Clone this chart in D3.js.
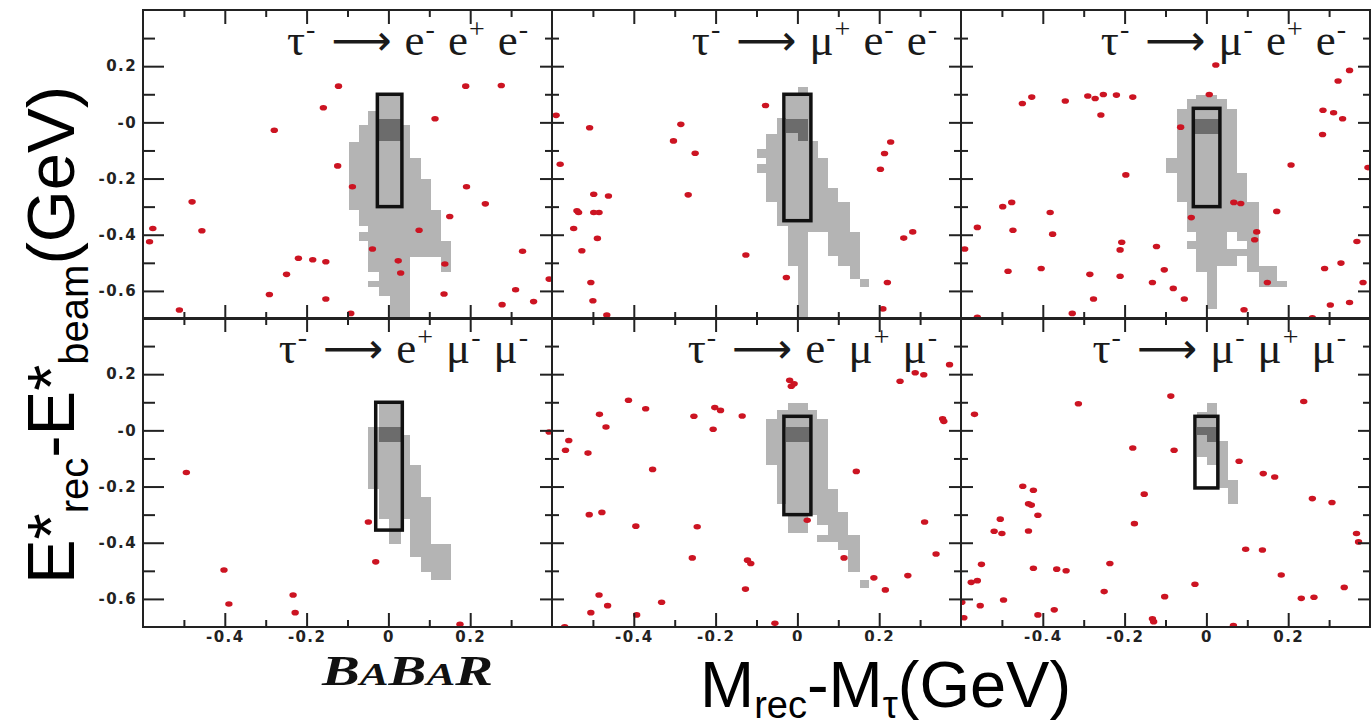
<!DOCTYPE html>
<html>
<head>
<meta charset="utf-8">
<script src="https://cdn.jsdelivr.net/npm/d3@7"></script>
<style>
  body { margin: 0; background: #fff; }
  svg { display: block; }
</style>
</head>
<body>
<div id="chart"></div>
<script>
// axis ranges and ticks (same for all six panels)
const xDomain = [-0.6, 0.4];
const yDomain = [-0.7, 0.4];
const xMajor = [-0.4, -0.2, 0, 0.2];
const xMinor = [-0.5, -0.3, -0.1, 0.1, 0.3];
const yMajor = [-0.6, -0.4, -0.2, 0, 0.2];
const yMinor = [-0.5, -0.3, -0.1, 0.1, 0.3];
const xTickLabels = ["-0.4", "-0.2", "0", "0.2"];
const yTickLabels = ["-0.6", "-0.4", "-0.2", "-0", "0.2"];

// decay channel of each panel: [particle, charge]
const decays = [
  [["e", "-"], ["e", "+"], ["e", "-"]],
  [["μ", "+"], ["e", "-"], ["e", "-"]],
  [["μ", "-"], ["e", "+"], ["e", "-"]],
  [["e", "+"], ["μ", "-"], ["μ", "-"]],
  [["e", "-"], ["μ", "+"], ["μ", "-"]],
  [["μ", "-"], ["μ", "+"], ["μ", "-"]]
];

// signal boxes [xMin, xMax, yTop, yBottom]
const signalBoxes = [
  [-0.027, 0.033, 0.10, -0.30],
  [-0.033, 0.033, 0.10, -0.35],
  [-0.032, 0.033, 0.05, -0.30],
  [-0.031, 0.034, 0.10, -0.355],
  [-0.033, 0.033, 0.05, -0.30],
  [-0.028, 0.028, 0.05, -0.205]
];

// signal MC, light grey bins [yTop, yBottom, xMin, xMax]
const mcEEE = [
  [0.099, 0.040, -0.024, 0.030], [0.040, -0.011, -0.049, 0.030], [-0.011, -0.070, -0.072, 0.054],
  [-0.070, -0.126, -0.097, 0.054], [-0.126, -0.202, -0.097, 0.079], [-0.202, -0.311, -0.097, 0.103],
  [-0.311, -0.368, -0.072, 0.128], [-0.368, -0.392, -0.049, 0.128], [-0.392, -0.421, -0.072, 0.128],
  [-0.421, -0.481, -0.049, 0.153], [-0.481, -0.534, -0.049, 0.054], [-0.481, -0.534, 0.128, 0.153],
  [-0.534, -0.564, -0.024, 0.054], [-0.564, -0.587, -0.049, 0.054], [-0.587, -0.617, -0.024, 0.054],
  [-0.617, -0.700, 0.003, 0.054]
];
const mcMEE = [
  [0.127, 0.099, 0.002, 0.026], [0.099, 0.017, -0.029, 0.030], [0.017, -0.040, -0.049, 0.030],
  [-0.040, -0.066, -0.076, 0.030], [-0.066, -0.096, -0.076, 0.050], [-0.096, -0.126, -0.100, 0.050],
  [-0.126, -0.149, -0.076, 0.075], [-0.149, -0.179, -0.100, 0.075], [-0.179, -0.232, -0.076, 0.075],
  [-0.232, -0.285, -0.076, 0.099], [-0.285, -0.368, -0.049, 0.128], [-0.368, -0.392, -0.023, 0.128],
  [-0.392, -0.475, -0.023, 0.026], [-0.392, -0.475, 0.075, 0.152], [-0.475, -0.510, -0.023, 0.026],
  [-0.475, -0.510, 0.099, 0.152], [-0.510, -0.558, 0.002, 0.026], [-0.510, -0.558, 0.128, 0.152],
  [-0.558, -0.587, 0.002, 0.026], [-0.558, -0.587, 0.152, 0.176], [-0.587, -0.700, 0.002, 0.026]
];
const mcMpEE = [
  [0.097, 0.082, -0.026, 0.027], [0.082, 0.046, -0.048, 0.051], [0.046, -0.126, -0.072, 0.076],
  [-0.126, -0.179, -0.098, 0.076], [-0.179, -0.285, -0.072, 0.100], [-0.285, -0.392, -0.048, 0.128],
  [-0.392, -0.421, -0.026, 0.051], [-0.392, -0.421, 0.076, 0.128], [-0.421, -0.451, -0.048, 0.051],
  [-0.421, -0.451, 0.100, 0.128], [-0.451, -0.475, -0.026, 0.128], [-0.475, -0.510, -0.026, 0.076],
  [-0.475, -0.510, 0.100, 0.128], [-0.510, -0.534, -0.026, 0.027], [-0.510, -0.534, 0.100, 0.173],
  [-0.534, -0.564, 0.002, 0.027], [-0.534, -0.564, 0.128, 0.173], [-0.564, -0.587, 0.002, 0.027],
  [-0.564, -0.587, 0.128, 0.198], [-0.587, -0.664, 0.002, 0.027]
];
const mcEMM = [
  [0.098, 0.012, -0.024, 0.030], [0.012, -0.018, -0.049, 0.030], [-0.018, -0.124, -0.049, 0.054],
  [-0.124, -0.207, -0.049, 0.079], [-0.207, -0.237, -0.024, 0.079], [-0.237, -0.314, -0.024, 0.103],
  [-0.314, -0.403, 0.002, 0.030], [-0.314, -0.403, 0.054, 0.103], [-0.403, -0.450, 0.054, 0.152],
  [-0.450, -0.503, 0.079, 0.152], [-0.503, -0.533, 0.103, 0.152]
];
const mcEmMM = [
  [0.098, 0.071, -0.023, 0.026], [0.071, 0.041, -0.049, 0.049], [0.041, -0.124, -0.076, 0.075],
  [-0.124, -0.207, -0.049, 0.075], [-0.207, -0.261, -0.049, 0.099], [-0.261, -0.290, -0.029, 0.099],
  [-0.290, -0.302, -0.029, 0.124], [-0.302, -0.367, -0.023, 0.026], [-0.302, -0.337, 0.049, 0.124],
  [-0.337, -0.373, 0.075, 0.124], [-0.373, -0.397, 0.049, 0.152], [-0.397, -0.426, 0.099, 0.152],
  [-0.426, -0.503, 0.124, 0.152], [-0.533, -0.562, 0.152, 0.176]
];
const mcMMM = [
  [0.065, 0.053, -0.024, 0.002], [0.098, 0.053, 0.002, 0.027], [0.053, -0.095, -0.024, 0.027],
  [-0.095, -0.124, 0.002, 0.027], [-0.039, -0.205, 0.030, 0.053], [-0.178, -0.261, 0.053, 0.077]
];

// signal MC, dark grey core bins
const coreEEE = [[0.011, -0.066, -0.024, 0.030]];
const coreMEE = [[0.013, -0.037, -0.029, 0.026], [-0.037, -0.066, 0.002, 0.026]];
const coreMpEE = [[0.013, -0.040, -0.029, 0.030]];
const coreEMM = [[0.012, -0.041, -0.024, 0.030]];
const coreEmMM = [[0.012, -0.041, -0.029, 0.030]];
const coreMMM = [[0.012, -0.018, -0.024, 0.027], [-0.018, -0.041, 0.002, 0.027]];

// data events [dM, dE]
const dataEEE = [
  [-0.122, 0.129], [-0.159, 0.052], [-0.279, -0.028], [-0.124, -0.155], [-0.088, -0.229], [0.114, 0.013],
  [0.189, 0.129], [0.276, 0.131], [0.191, -0.229], [0.237, -0.290], [0.150, -0.335], [0.075, -0.384],
  [-0.039, -0.451], [0.024, -0.493], [0.030, -0.536], [0.138, -0.504], [0.136, -0.611], [0.328, -0.459],
  [0.393, -0.558], [0.311, -0.596], [0.355, -0.638], [0.278, -0.649], [-0.153, -0.629], [-0.153, -0.496],
  [-0.185, -0.489], [-0.220, -0.484], [-0.249, -0.541], [-0.291, -0.613], [-0.092, -0.680], [-0.511, -0.668],
  [-0.480, -0.283], [-0.456, -0.386], [-0.576, -0.378], [-0.584, -0.425]
];
const dataMEE = [
  [-0.590, 0.025], [-0.580, -0.149], [-0.508, -0.019], [-0.285, -0.007], [-0.303, -0.066], [-0.250, -0.110],
  [-0.078, 0.060], [-0.267, -0.258], [-0.498, -0.256], [-0.462, -0.262], [-0.539, -0.315], [-0.535, -0.321],
  [-0.498, -0.321], [-0.485, -0.321], [-0.547, -0.378], [-0.489, -0.413], [-0.527, -0.457], [-0.505, -0.570],
  [-0.500, -0.635], [-0.466, -0.686], [-0.126, -0.472], [-0.027, -0.552], [0.228, -0.070], [0.213, -0.111],
  [0.203, -0.167], [0.282, -0.390], [0.260, -0.412], [0.220, -0.570], [0.209, -0.664]
];
const dataMpEE = [
  [0.023, 0.204], [0.007, 0.099], [0.350, 0.185], [0.322, 0.147], [-0.450, 0.067], [-0.427, 0.090],
  [-0.345, 0.076], [-0.290, 0.094], [-0.272, 0.085], [-0.252, 0.099], [-0.220, 0.097], [-0.180, 0.090],
  [-0.258, 0.026], [-0.063, -0.017], [0.285, 0.043], [0.311, 0.034], [0.333, 0.013], [0.284, -0.043],
  [0.207, -0.152], [0.395, -0.161], [-0.197, -0.187], [-0.498, -0.300], [-0.476, -0.285], [-0.382, -0.321],
  [-0.560, -0.374], [-0.473, -0.384], [-0.376, -0.398], [-0.591, -0.451], [-0.207, -0.427], [-0.211, -0.454],
  [-0.122, -0.442], [-0.037, -0.339], [0.067, -0.285], [0.084, -0.289], [0.172, -0.317], [0.123, -0.390],
  [0.118, -0.418], [0.368, -0.424], [-0.485, -0.530], [-0.404, -0.520], [-0.285, -0.541], [-0.211, -0.548],
  [-0.103, -0.525], [-0.132, -0.570], [-0.081, -0.591], [-0.054, -0.629], [-0.276, -0.629], [-0.328, -0.680],
  [-0.560, -0.694], [0.092, -0.667], [0.149, -0.570], [0.259, -0.696], [0.289, -0.520], [0.329, -0.501],
  [0.383, -0.570], [0.303, -0.650], [0.350, -0.641]
];
const dataEMM = [
  [-0.494, -0.150], [-0.402, -0.497], [-0.390, -0.618], [-0.233, -0.586], [-0.228, -0.649],
  [-0.049, -0.326], [-0.031, -0.468], [0.175, -0.690], [0.393, -0.006]
];
const dataEmMM = [
  [-0.019, 0.178], [-0.015, 0.157], [-0.008, 0.166], [-0.413, 0.107], [-0.371, 0.077], [-0.484, 0.057],
  [-0.468, 0.012], [-0.202, 0.081], [-0.188, 0.071], [-0.253, 0.050], [-0.135, 0.051], [-0.206, 0.004],
  [-0.559, -0.036], [-0.567, -0.071], [-0.512, -0.081], [-0.354, -0.139], [0.251, 0.175], [0.288, 0.205],
  [0.309, 0.198], [0.372, 0.234], [0.355, 0.041], [0.358, 0.032], [0.144, -0.146], [0.311, -0.326],
  [0.339, -0.440], [0.270, -0.517], [0.187, -0.525], [0.215, -0.568], [0.114, -0.454], [0.024, -0.320],
  [-0.509, -0.300], [-0.478, -0.292], [-0.395, -0.341], [-0.245, -0.343], [-0.257, -0.454], [-0.122, -0.462],
  [-0.114, -0.474], [-0.127, -0.565], [-0.485, -0.586], [-0.464, -0.624], [-0.505, -0.649], [-0.332, -0.612],
  [-0.393, -0.657], [-0.569, -0.699], [-0.055, -0.687]
];
const dataMMM = [
  [-0.087, 0.122], [-0.313, 0.095], [0.238, 0.103], [-0.567, 0.057], [-0.180, -0.063], [-0.079, -0.071],
  [0.080, -0.110], [0.139, -0.154], [0.167, -0.166], [0.259, -0.243], [0.307, -0.257], [-0.152, -0.227],
  [-0.176, -0.332], [-0.449, -0.199], [-0.423, -0.213], [-0.435, -0.261], [-0.428, -0.266], [-0.412, -0.302],
  [-0.504, -0.316], [-0.519, -0.359], [-0.500, -0.367], [-0.435, -0.358], [-0.550, -0.477], [-0.423, -0.491],
  [-0.366, -0.494], [-0.343, -0.500], [-0.236, -0.474], [-0.575, -0.541], [-0.560, -0.535], [-0.598, -0.612],
  [-0.593, -0.667], [-0.553, -0.624], [-0.496, -0.604], [-0.412, -0.657], [-0.372, -0.639], [-0.250, -0.574],
  [-0.132, -0.671], [-0.129, -0.681], [-0.102, -0.592], [-0.028, -0.548], [0.066, -0.695], [0.096, -0.423],
  [0.137, -0.426], [0.183, -0.515], [0.232, -0.598], [0.263, -0.594], [0.337, -0.559], [0.367, -0.367],
  [0.372, -0.397]
];

const mcBins = [mcEEE, mcMEE, mcMpEE, mcEMM, mcEmMM, mcMMM];
const coreBins = [coreEEE, coreMEE, coreMpEE, coreEMM, coreEmMM, coreMMM];
const events = [dataEEE, dataMEE, dataMpEE, dataEMM, dataEmMM, dataMMM];

// layout
const width = 1372, height = 726;
const colLeft = [143, 552, 961];
const rowTop = [10, 318];
const panelW = 409, panelH = 309;

const svg = d3.select("#chart")
  .append("svg")
  .attr("width", width)
  .attr("height", height);

const tickFont = "'DejaVu Sans', sans-serif";

decays.forEach((decay, i) => {
  const col = i % 3, row = Math.floor(i / 3);
  const left = colLeft[col], top = rowTop[row];

  const x = d3.scaleLinear().domain(xDomain).range([left, left + panelW]);
  const y = d3.scaleLinear().domain(yDomain).range([top + panelH, top]);

  const g = svg.append("g").attr("class", "panel");

  g.append("clipPath").attr("id", "clip" + i)
    .append("rect")
    .attr("x", left).attr("y", top)
    .attr("width", panelW).attr("height", panelH);

  const inner = g.append("g").attr("clip-path", `url(#clip${i})`);

  // signal MC histogram
  inner.selectAll("rect.mc")
    .data(mcBins[i])
    .join("rect")
    .attr("class", "mc")
    .attr("x", d => x(d[2]))
    .attr("y", d => y(d[0]))
    .attr("width", d => x(d[3]) - x(d[2]))
    .attr("height", d => y(d[1]) - y(d[0]))
    .attr("fill", "#b4b4b4")
    .attr("shape-rendering", "crispEdges");

  inner.selectAll("rect.core")
    .data(coreBins[i])
    .join("rect")
    .attr("class", "core")
    .attr("x", d => x(d[2]))
    .attr("y", d => y(d[0]))
    .attr("width", d => x(d[3]) - x(d[2]))
    .attr("height", d => y(d[1]) - y(d[0]))
    .attr("fill", "#6c6c6c")
    .attr("shape-rendering", "crispEdges");

  // signal box
  const b = signalBoxes[i];
  inner.append("rect")
    .attr("x", x(b[0]))
    .attr("y", y(b[2]))
    .attr("width", x(b[1]) - x(b[0]))
    .attr("height", y(b[3]) - y(b[2]))
    .attr("fill", "none")
    .attr("stroke", "#111")
    .attr("stroke-width", 3.5);

  // data points
  inner.selectAll("ellipse")
    .data(events[i])
    .join("ellipse")
    .attr("cx", d => x(d[0]))
    .attr("cy", d => y(d[1]))
    .attr("rx", 3.7)
    .attr("ry", 2.8)
    .attr("fill", "#cc1422");

  // frame
  g.append("rect")
    .attr("x", left).attr("y", top)
    .attr("width", panelW).attr("height", panelH)
    .attr("fill", "none")
    .attr("stroke", "#222")
    .attr("stroke-width", 2);

  // ticks on all four sides, pointing inwards
  const leftLen = col === 0 ? [21, 12] : [12, 7];
  const sides = [
    [d3.axisLeft(y), left, 0, yMajor, yMinor, leftLen],
    [d3.axisRight(y), left + panelW, 0, yMajor, yMinor, [12, 7]],
    [d3.axisTop(x), 0, top, xMajor, xMinor, [14, 7]],
    [d3.axisBottom(x), 0, top + panelH, xMajor, xMinor, [14, 7]]
  ];
  sides.forEach(([axis, tx, ty, major, minor, len]) => {
    [[major, len[0]], [minor, len[1]]].forEach(([vals, l]) => {
      const a = g.append("g")
        .attr("transform", `translate(${tx},${ty})`)
        .call(axis.tickValues(vals).tickSize(-l).tickFormat(""));
      a.select(".domain").remove();
      a.selectAll("line").attr("stroke", "#222").attr("stroke-width", 2);
    });
  });

  // tick labels
  if (col === 0) {
    const a = g.append("g")
      .attr("transform", `translate(${left},0)`)
      .call(d3.axisLeft(y).tickValues(yMajor).tickSize(0).tickPadding(6)
        .tickFormat((d, k) => yTickLabels[k]));
    a.select(".domain").remove();
    a.selectAll("text")
      .attr("font-family", tickFont)
      .attr("font-weight", "bold")
      .attr("font-size", 15)
      .attr("letter-spacing", 1.4)
      .attr("fill", "#222");
  }
  if (row === 1) {
    const a = g.append("g")
      .attr("transform", `translate(0,${top + panelH})`)
      .call(d3.axisBottom(x).tickValues(xMajor).tickSize(0).tickPadding(4)
        .tickFormat((d, k) => xTickLabels[k]));
    a.select(".domain").remove();
    a.selectAll("text")
      .attr("font-family", tickFont)
      .attr("font-weight", "bold")
      .attr("font-size", 15)
      .attr("letter-spacing", 1.4)
      .attr("fill", "#222");
  }

  // decay title
  const t = g.append("text")
    .attr("x", left + panelW - 24)
    .attr("y", top + 45)
    .attr("text-anchor", "end")
    .attr("font-family", "'Liberation Serif', 'Times New Roman', serif")
    .attr("font-size", 45)
    .attr("fill", "#1a1a1a");
  const parts = [["τ", "-"], ["⟶", null]].concat(decay);
  parts.forEach((p, k) => {
    const main = t.append("tspan").text(p[0]).attr("dy", k === 0 ? 0 : 17)
      .attr("dx", k === 0 ? 0 : (k === 1 ? 16 : 13));
    if (k > 0 && parts[k - 1][1] === null) main.attr("dy", 0);
    if (p[0] === "⟶") main.attr("font-family", "'DejaVu Sans', sans-serif").attr("font-size", 42);
    if (p[1] !== null) {
      t.append("tspan").text(p[1]).attr("font-size", 28).attr("dy", -17)
        .attr("dx", 1);
    }
  });
});

// white background under the big x title (hides parts of tick labels, as in the original)
svg.append("rect")
  .attr("x", 676).attr("y", 641)
  .attr("width", 410).attr("height", 85)
  .attr("fill", "#fff");

const labelFont = "'Liberation Sans', Arial, sans-serif";

const xt = svg.append("text")
  .attr("x", 700).attr("y", 707)
  .attr("font-family", labelFont)
  .attr("font-size", 65)
  .attr("fill", "#000");
xt.append("tspan").text("M");
xt.append("tspan").text("rec").attr("font-size", 38).attr("dy", 11);
xt.append("tspan").text("-M").attr("dy", -11);
xt.append("tspan").text("τ").attr("font-size", 38).attr("dy", 11);
xt.append("tspan").text("(GeV)").attr("dy", -11);

const yt = svg.append("text")
  .attr("transform", "translate(74,335) rotate(-90)")
  .attr("text-anchor", "middle")
  .attr("font-family", labelFont)
  .attr("font-size", 67)
  .attr("fill", "#000");
yt.append("tspan").text("E*");
yt.append("tspan").text("rec").attr("font-size", 40).attr("dy", 14);
yt.append("tspan").text("-E*").attr("dy", -14);
yt.append("tspan").text("beam").attr("font-size", 40).attr("dy", 14);
yt.append("tspan").text("(GeV)").attr("dy", -14);

// experiment logo
const logo = svg.append("text")
  .attr("x", 322).attr("y", 685)
  .attr("font-family", "'Liberation Serif', 'Times New Roman', serif")
  .attr("font-style", "italic")
  .attr("font-weight", "bold")
  .attr("font-size", 42)
  .attr("textLength", 171)
  .attr("lengthAdjust", "spacingAndGlyphs")
  .attr("fill", "#111");
["B", "A", "B", "A", "R"].forEach((c, k) => {
  logo.append("tspan").text(c).attr("font-size", k % 2 === 0 ? 42 : 32);
});
</script>
</body>
</html>
